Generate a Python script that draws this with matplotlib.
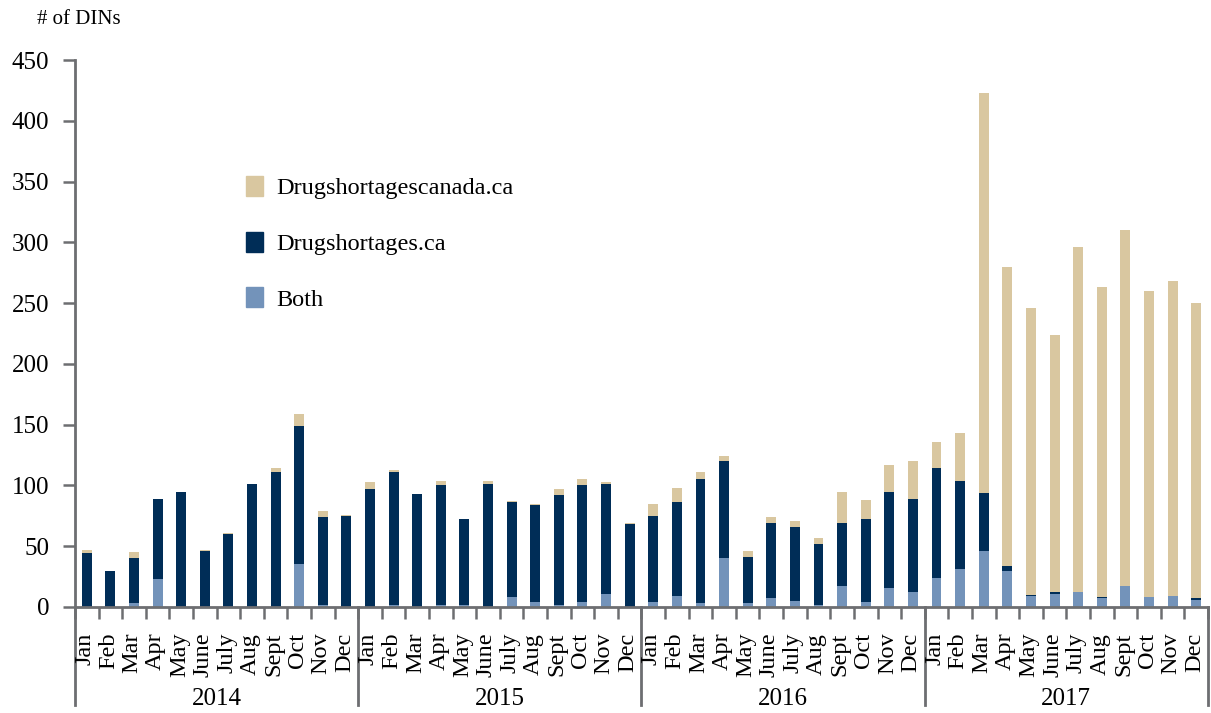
import matplotlib
matplotlib.use("Agg")
import matplotlib.pyplot as plt
import matplotlib.transforms as mtransforms
from matplotlib.patches import Patch
import numpy as np

plt.rcParams['font.family'] = ['Liberation Serif', 'DejaVu Serif']

years = ['2014', '2015', '2016', '2017']
months = ['Jan', 'Feb', 'Mar', 'Apr', 'May', 'June', 'July', 'Aug', 'Sept', 'Oct', 'Nov', 'Dec']

# DINs reported in both sources
both = [0, 0, 3, 23, 0, 0, 0, 0, 0, 35, 2, 0,
        0, 2, 0, 2, 2, 0, 8, 4, 2, 4, 11, 0,
        4, 9, 3, 40, 3, 7, 5, 2, 17, 4, 16, 12,
        24, 31, 46, 30, 9, 11, 12, 7, 17, 8, 9, 6]
# Drugshortages.ca only
ds_only = [44, 30, 37, 66, 95, 46, 60, 101, 111, 114, 72, 75,
           97, 109, 93, 98, 70, 101, 78, 80, 90, 96, 90, 68,
           71, 77, 102, 80, 38, 62, 61, 50, 52, 68, 79, 77,
           90, 73, 48, 4, 1, 1, 0, 1, 0, 0, 0, 1]
# Drugshortagescanada.ca only
dsc_only = [3, 0, 5, 0, 0, 1, 1, 0, 3, 10, 5, 1,
            6, 2, 0, 4, 0, 3, 1, 1, 5, 5, 2, 1,
            10, 12, 6, 4, 5, 5, 5, 5, 26, 16, 22, 31,
            22, 39, 329, 246, 236, 212, 284, 255, 293, 252, 259, 243]

c_tan = '#D9C7A0'
c_navy = '#002D57'
c_blue = '#7393BA'
c_axis = '#6D6E71'

n = len(both)
x = np.arange(n)
b1 = np.array(both)
b2 = b1 + np.array(ds_only)

fig = plt.figure(figsize=(12.11, 7.13), dpi=100)
ax = fig.add_axes([0.0619, 0.1487, 0.9356, 0.7671])

w = 0.42
ax.bar(x, both, w, color=c_blue, linewidth=0)
ax.bar(x, ds_only, w, bottom=b1, color=c_navy, linewidth=0)
ax.bar(x, dsc_only, w, bottom=b2, color=c_tan, linewidth=0)

ax.set_xlim(-0.5, n - 0.5)
ax.set_ylim(0, 450)
ax.set_yticks(range(0, 451, 50))

for s in ['top', 'right']:
    ax.spines[s].set_visible(False)
for s in ['left', 'bottom']:
    ax.spines[s].set_color(c_axis)
    ax.spines[s].set_linewidth(2)

ax.tick_params(axis='y', direction='out', length=8.6, width=1.8, color=c_axis,
               labelsize=18, pad=10)
# month boundaries as ticks, labels placed by hand
ax.set_xticks(np.arange(-0.5, n, 1.0))
ax.set_xticklabels([])
ax.tick_params(axis='x', direction='out', length=8.6, width=1.8, color=c_axis)

trans = mtransforms.blended_transform_factory(ax.transData, ax.transAxes)
for i in range(n):
    ax.text(x[i] - 0.08, -0.047, months[i % 12], rotation=90, ha='center', va='top',
            fontsize=17.5, transform=trans)

for k in range(len(years) + 1):
    ax.plot([k * 12 - 0.5, k * 12 - 0.5], [0, -0.179], color=c_axis, lw=2,
            transform=trans, clip_on=False)
for k, yr in enumerate(years):
    ax.text(k * 12 + 5.5, -0.168, yr, ha='center', va='center', fontsize=18,
            transform=trans)

fig.text(37 / 1211, 1 - 20 / 713, '# of DINs', ha='left', va='center', fontsize=15)

handles = [Patch(color=c_tan), Patch(color=c_navy), Patch(color=c_blue)]
labels = ['Drugshortagescanada.ca', 'Drugshortages.ca', 'Both']
ax.legend(handles, labels, loc='upper left', bbox_to_anchor=(0.151, 0.788),
          frameon=False, fontsize=17.5, handlelength=0.7, handleheight=0.9,
          handletextpad=0.55, labelspacing=1.32, borderpad=0, borderaxespad=0)

fig.savefig('out.png', dpi=100)
